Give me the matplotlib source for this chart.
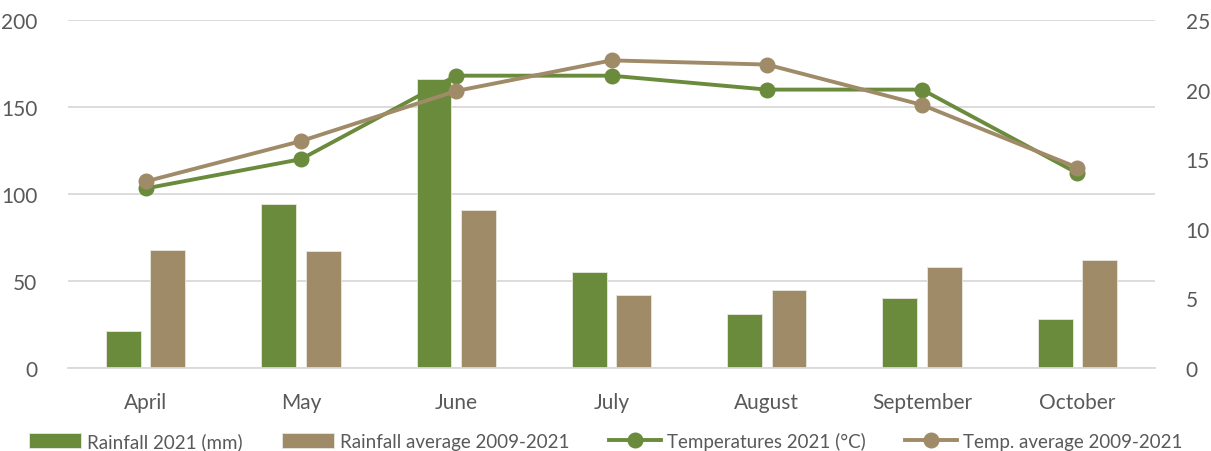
import numpy as np
import matplotlib.pyplot as plt

months = ['April', 'May', 'June', 'July', 'August', 'September', 'October']
rain_2021 = [21, 94, 166, 55, 31, 40, 28]
rain_avg = [68, 67, 91, 42, 45, 58, 62]
temp_2021 = [12.9, 15.0, 21.0, 21.0, 20.0, 20.0, 14.0]
temp_avg = [13.4, 16.3, 19.9, 22.1, 21.8, 18.9, 14.4]

GREEN = '#6A8B3C'
TAN = '#A08B68'
TXT = '#595959'
GRID = '#D9D9D9'

plt.rcParams['font.family'] = ['Lato', 'DejaVu Sans']

fig = plt.figure(figsize=(12.11, 4.52), dpi=100)
ax = fig.add_axes([68 / 1211, 1 - 369 / 452, (1155 - 68) / 1211, (369 - 21) / 452])
ax2 = ax.twinx()

x = np.arange(len(months))
w = 0.225
ax.bar(x - 0.143, rain_2021, w, color=GREEN, edgecolor='#E8E8E0', linewidth=0.6,
       label='Rainfall 2021 (mm)', zorder=2)
ax.bar(x + 0.143, rain_avg, w, color=TAN, edgecolor='#E8E8E0', linewidth=0.6,
       label='Rainfall average 2009-2021', zorder=2)

ax2.plot(x, temp_2021, color=GREEN, lw=2.8, marker='o', ms=10.5,
         label='Temperatures 2021 (°C)', zorder=3)
ax2.plot(x, temp_avg, color=TAN, lw=2.8, marker='o', ms=10.5,
         label='Temp. average 2009-2021', zorder=3)

ax.set_xlim(-0.5, len(months) - 0.5)
ax.set_ylim(0, 200)
ax.set_yticks(range(0, 201, 50))
ax2.set_ylim(0, 25)
ax2.set_yticks(range(0, 26, 5))
ax.set_xticks(x)
ax.set_xticklabels(months)

ax.yaxis.grid(True, color=GRID, lw=1.3, zorder=0)
ax.set_axisbelow(True)
for a in (ax, ax2):
    for s in a.spines.values():
        s.set_visible(False)
    a.tick_params(length=0, labelsize=15, colors=TXT)
ax.spines['bottom'].set_visible(True)
ax.spines['bottom'].set_color(GRID)
ax.spines['bottom'].set_linewidth(1.3)
ax.tick_params(axis='y', pad=22)
ax2.tick_params(axis='y', pad=22)
ax.tick_params(axis='x', pad=17)

h1, l1 = ax.get_legend_handles_labels()
h2, l2 = ax2.get_legend_handles_labels()
fig.legend(h1 + h2, l1 + l2, loc='lower center', bbox_to_anchor=(0.5, -0.035), ncol=4,
           frameon=False, fontsize=13.5, labelcolor=TXT, handlelength=2.8,
           handletextpad=0.3, columnspacing=2.1, handleheight=0.85)

fig.savefig('out.png', dpi=100)
